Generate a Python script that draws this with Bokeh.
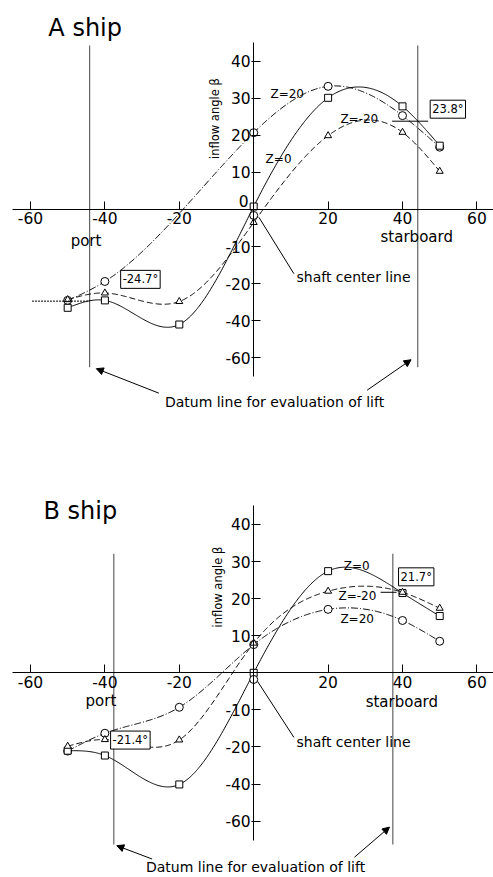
import numpy as np
from bokeh.plotting import figure
from bokeh.layouts import column
from bokeh.models import Label, Arrow, NormalHead, FixedTicker, Range1d
from bokeh.embed import file_html
from bokeh.resources import INLINE

# ---------------- data ----------------
x_stations = [-50, -40, -20, 0, 20, 40, 50]
a_x_z20 = [-50, -40, 0, 20, 40, 50]
a_z20 = [-24.5, -19.4, 20.7, 33.2, 25.3, 16.8]
a_z0 = [-26.5, -24.5, -31.0, 0.8, 30.1, 27.8, 17.2]
a_zm20 = [-24.3, -22.5, -24.8, -3.5, 19.9, 20.8, 10.3]

b_x_z20 = [-50, -40, -20, 0, 20, 40, 50]
b_z20 = [-21.1, -16.3, -9.3, 7.6, 17.1, 14.1, 8.5]
b_z0 = [-21.0, -22.3, -30.1, 0.0, 27.4, 21.5, 15.3]
b_zm20 = [-19.8, -18.0, -18.1, 8.0, 22.0, 21.7, 17.4]

a_datum_x = [-44.1, 44.1]
a_datum_vals = [-24.7, 23.8]
a_datum_labels = ["-24.7°", "23.8°"]
b_datum_x = [-37.6, 37.4]
b_datum_vals = [-21.4, 21.7]
b_datum_labels = ["-21.4°", "21.7°"]

x_ticks = [-60, -40, -20, 20, 40, 60]
x_tick_labels = ["-60", "-40", "-20", "20", "40", "60"]
y_ticks = [40, 30, 20, 10, -10, -20, -30, -40]
y_tick_labels = ["40", "30", "20", "10", "-10", "-20", "-40", "-60"]

FONT = "DejaVu Sans"


def smooth(xs, ys, n=400):
    """natural cubic spline path through the points (for drawing the curve)"""
    xs = np.asarray(xs, float)
    ys = np.asarray(ys, float)
    k = len(xs)
    h = np.diff(xs)
    A = np.zeros((k, k))
    r = np.zeros(k)
    A[0, 0] = A[-1, -1] = 1
    for i in range(1, k - 1):
        A[i, i - 1] = h[i - 1]
        A[i, i] = 2 * (h[i - 1] + h[i])
        A[i, i + 1] = h[i]
        r[i] = 6 * ((ys[i + 1] - ys[i]) / h[i] - (ys[i] - ys[i - 1]) / h[i - 1])
    M = np.linalg.solve(A, r)
    xx = np.linspace(xs[0], xs[-1], n)
    idx = np.clip(np.searchsorted(xs, xx) - 1, 0, k - 2)
    x0 = xs[idx]
    x1 = xs[idx + 1]
    hh = x1 - x0
    t0 = x1 - xx
    t1 = xx - x0
    yy = (M[idx] * t0 ** 3 / (6 * hh) + M[idx + 1] * t1 ** 3 / (6 * hh)
          + (ys[idx] / hh - M[idx] * hh / 6) * t0
          + (ys[idx + 1] / hh - M[idx + 1] * hh / 6) * t1)
    return xx, yy


def txt(p, x, y, s, size="15px", align="left", baseline="middle", angle=0.0,
        font=FONT, box=False, xo=0, yo=0):
    kw = {}
    if box:
        kw = dict(border_line_color="black", border_line_width=1,
                  background_fill_color="white", padding=2)
    p.add_layout(Label(x=x, y=y, text=s, text_font=font, text_font_size=size,
                       text_align=align, text_baseline=baseline, angle=angle,
                       text_color="black", x_offset=xo, y_offset=yo, **kw))


def make_panel(height, y_range, series, datum_x, datum_span, yaxis_bounds, show_zero):
    p = figure(width=493, height=height, x_range=Range1d(-68.06, 64.46),
               y_range=Range1d(*y_range), output_backend="svg",
               toolbar_location=None, min_border=0, min_border_left=0,
               min_border_right=0, min_border_top=0, min_border_bottom=0)
    p.outline_line_color = None
    p.grid.visible = False
    p.background_fill_color = "white"

    # axes crossing at the origin
    xa = p.xaxis[0]
    xa.fixed_location = 0
    xa.ticker = FixedTicker(ticks=x_ticks)
    xa.major_label_overrides = {t: l for t, l in zip(x_ticks, x_tick_labels)}
    xa.minor_tick_line_color = None
    xa.major_tick_in = 8
    xa.major_tick_out = 0
    xa.major_label_standoff = 3
    xa.bounds = (-64.8, 70)
    ya = p.yaxis[0]
    ya.fixed_location = 0
    ya.ticker = FixedTicker(ticks=y_ticks)
    ya.major_label_overrides = {t: l for t, l in zip(y_ticks, y_tick_labels)}
    ya.minor_tick_line_color = None
    ya.major_tick_in = 7
    ya.major_tick_out = 2
    ya.major_label_standoff = 1
    ya.bounds = yaxis_bounds
    for ax in (xa, ya):
        ax.axis_line_color = "black"
        ax.major_tick_line_color = "black"
        ax.major_label_text_font = FONT
        ax.major_label_text_font_size = "15.5px"
        ax.major_label_text_color = "black"

    # datum lines
    for dx in datum_x:
        p.line([dx, dx], list(datum_span), line_color="#555555", line_width=1.1)

    styles = {"z20": ("7 2 1 2", "circle", 8), "z0": ("solid", "square", 7),
              "zm20": ("6 3", "triangle", 7)}
    for key, (xs, ys) in series.items():
        dash, marker, size = styles[key]
        sx, sy = smooth(xs, ys)
        p.line(sx, sy, line_color="black", line_width=1, line_dash=dash)
        p.scatter(xs, ys, marker=marker, size=size, fill_color="white",
                  line_color="black", line_width=1)

    if show_zero:
        txt(p, -2.7, 2.4, "0", size="15.5px", align="center")
    return p


# ---------------- A ship ----------------
pA = make_panel(448, (-64.42, 56.33),
                {"z20": (a_x_z20, a_z20), "z0": (x_stations, a_z0),
                 "zm20": (x_stations, a_zm20)},
                a_datum_x, (44.2, -42.5), (-45.0, 45.1), True)
txt(pA, -55.2, 48.8, "A ship", size="24px", baseline="alphabetic")
txt(pA, -10.3, 24.5, "inflow angle β", size="11.5px", align="center", angle=np.pi / 2)
txt(pA, 4.5, 31.0, "Z=20", size="12px")
txt(pA, 23.3, 24.5, "Z=-20", size="12px")
txt(pA, 3.2, 13.7, "Z=0", size="12px")
pA.line([37.2, 46.9], [a_datum_vals[1]] * 2, line_color="black", line_width=1)
txt(pA, 46.9, a_datum_vals[1], a_datum_labels[1], size="11.5px", baseline="bottom", box=True, xo=2, yo=3)
pA.line([-59.6, -44.1], [a_datum_vals[0]] * 2, line_color="black", line_width=1, line_dash="2 1")
txt(pA, -36.3, -21.8, a_datum_labels[0], size="11.5px", baseline="bottom", box=True, xo=2, yo=2)
txt(pA, -49.2, -8.6, "port")
txt(pA, 34.1, -7.5, "starboard")
txt(pA, 11.5, -18.2, "shaft center line", size="14px")
pA.line([1.4, 10.8], [-2.1, -17.3], line_color="black", line_width=1)
pA.scatter([0], [-1.6], marker="circle", size=8, fill_color="white", line_color="black")
txt(pA, 5.6, -51.8, "Datum line for evaluation of lift", size="14px", align="center")
pA.add_layout(Arrow(end=NormalHead(size=7, fill_color="black", line_color="black"),
                    x_start=-25.5, y_start=-49.5, x_end=-42.3, y_end=-42.9, line_width=1))
pA.add_layout(Arrow(end=NormalHead(size=7, fill_color="black", line_color="black"),
                    x_start=30.5, y_start=-48.7, x_end=42.3, y_end=-40.5, line_width=1))

# ---------------- B ship ----------------
pB = make_panel(429, (-55.18, 60.46),
                {"z20": (b_x_z20, b_z20), "z0": (x_stations, b_z0),
                 "zm20": (x_stations, b_zm20)},
                b_datum_x, (32.1, -46.3), (-45.2, 45.1), False)
txt(pB, -56.5, 43.5, "B ship", size="24px", baseline="alphabetic")
txt(pB, -9.5, 23.1, "inflow angle β", size="11.5px", align="center", angle=np.pi / 2)
txt(pB, 24.2, 28.9, "Z=0", size="12px")
txt(pB, 22.8, 20.8, "Z=-20", size="12px")
txt(pB, 23.3, 14.4, "Z=20", size="12px")
pB.line([34.1, 38.4], [b_datum_vals[1]] * 2, line_color="black", line_width=1)
txt(pB, 38.4, 22.9, b_datum_labels[1], size="11.5px", baseline="bottom", box=True, xo=2, yo=2)
txt(pB, -39.0, -21.1, b_datum_labels[0], size="11.5px", baseline="bottom", box=True, xo=2, yo=2)
txt(pB, -45.2, -7.5, "port")
txt(pB, 30.1, -7.9, "starboard")
txt(pB, 11.5, -18.7, "shaft center line", size="14px")
pB.line([0.9, 10.8], [-2.1, -17.4], line_color="black", line_width=1)
pB.scatter([0], [-1.8], marker="circle", size=8, fill_color="white", line_color="black")
txt(pB, 0.5, -52.4, "Datum line for evaluation of lift", size="14px", align="center")
pB.add_layout(Arrow(end=NormalHead(size=7, fill_color="black", line_color="black"),
                    x_start=-27.3, y_start=-50.2, x_end=-36.8, y_end=-46.6, line_width=1))
pB.add_layout(Arrow(end=NormalHead(size=7, fill_color="black", line_color="black"),
                    x_start=27.1, y_start=-49.7, x_end=36.5, y_end=-41.6, line_width=1))

layout = column(pA, pB, spacing=0)
open("out.html", "w").write(file_html(layout, INLINE))
